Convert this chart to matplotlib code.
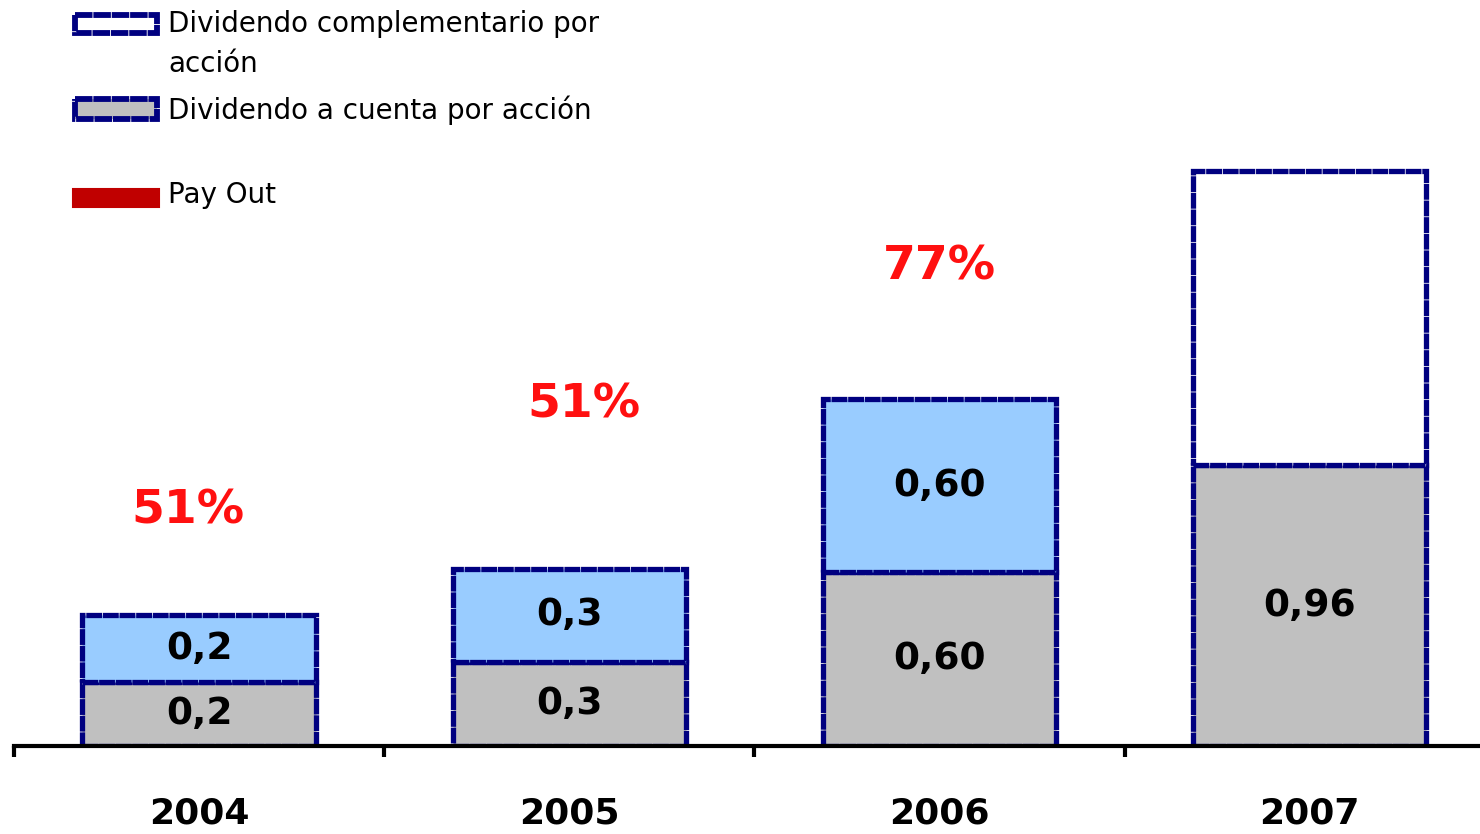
import numpy as np
import matplotlib.pyplot as plt
from matplotlib.patches import Rectangle

# data
years = ["2004", "2005", "2006", "2007"]
a_cuenta = [0.223, 0.293, 0.606, 0.979]          # gray bars
complementario = [0.233, 0.324, 0.603, 1.024]    # upper bars
a_cuenta_labels = ["0,2", "0,3", "0,60", "0,96"]
complementario_labels = ["0,2", "0,3", "0,60", ""]
payout = ["51%", "51%", "77%"]

# where the pay out labels sit (layout only)
payout_label_y = [0.82, 1.19, 1.67]
payout_label_dx = [-0.03, 0.04, 0.0]

navy = "#000080"
edge_style = (0, (3.0, 0.15))
top_colors = ["#99CCFF", "#99CCFF", "#99CCFF", "#FFFFFF"]

fig = plt.figure(figsize=(14.8, 8.34), dpi=100)
ax = fig.add_axes([14 / 1480, 88 / 834, 1466 / 1480, 746 / 834])

x = np.arange(len(years))
ax.bar(x, a_cuenta, width=0.63, color="#C0C0C0", edgecolor=navy,
       linewidth=3.8, linestyle=edge_style, zorder=2)
ax.bar(x, complementario, width=0.63, bottom=a_cuenta, color=top_colors,
       edgecolor=navy, linewidth=3.8, linestyle=edge_style, zorder=2)

for i in range(len(years)):
    ax.text(x[i], a_cuenta[i] / 2, a_cuenta_labels[i], ha="center",
            va="center", fontsize=27, fontweight="bold", zorder=3)
    if complementario_labels[i]:
        ax.text(x[i], a_cuenta[i] + complementario[i] / 2,
                complementario_labels[i], ha="center", va="center",
                fontsize=27, fontweight="bold", zorder=3)

for i, p in enumerate(payout):
    ax.text(x[i] + payout_label_dx[i], payout_label_y[i], p, ha="center",
            va="center", fontsize=34, fontweight="bold", color="#FF1010")

ax.set_xlim(-0.5, 3.46)
ax.set_ylim(0, 2.6)
for s in ["top", "right", "left"]:
    ax.spines[s].set_visible(False)
ax.spines["bottom"].set_linewidth(3)
ax.set_yticks([])
ax.set_xticks(x, years, fontsize=26, fontweight="bold")
ax.tick_params(axis="x", which="major", length=0, pad=36)
ax.set_xticks([-0.5, 0.5, 1.5, 2.5], minor=True)
ax.tick_params(axis="x", which="minor", length=8, width=3, direction="out")

# legend drawn by hand in pixel coordinates
lax = fig.add_axes([0, 0, 1, 1])
lax.set_xlim(0, 1480)
lax.set_ylim(834, 0)
lax.axis("off")
lax.add_patch(Rectangle((75, 15), 82, 18, facecolor="white", edgecolor=navy,
                        linewidth=4.2, linestyle=edge_style))
lax.add_patch(Rectangle((75, 99), 82, 20, facecolor="#C0C0C0", edgecolor=navy,
                        linewidth=4.2, linestyle=edge_style))
lax.add_patch(Rectangle((73, 189), 86, 18, facecolor="#C00000",
                        edgecolor="#C00000", linewidth=1.5))
lax.text(168, 24, "Dividendo complementario por", va="center", fontsize=20)
lax.text(168, 64, "acción", va="center", fontsize=20)
lax.text(168, 110, "Dividendo a cuenta por acción", va="center", fontsize=20)
lax.text(168, 195, "Pay Out", va="center", fontsize=20)

fig.savefig("out.png", dpi=100)
